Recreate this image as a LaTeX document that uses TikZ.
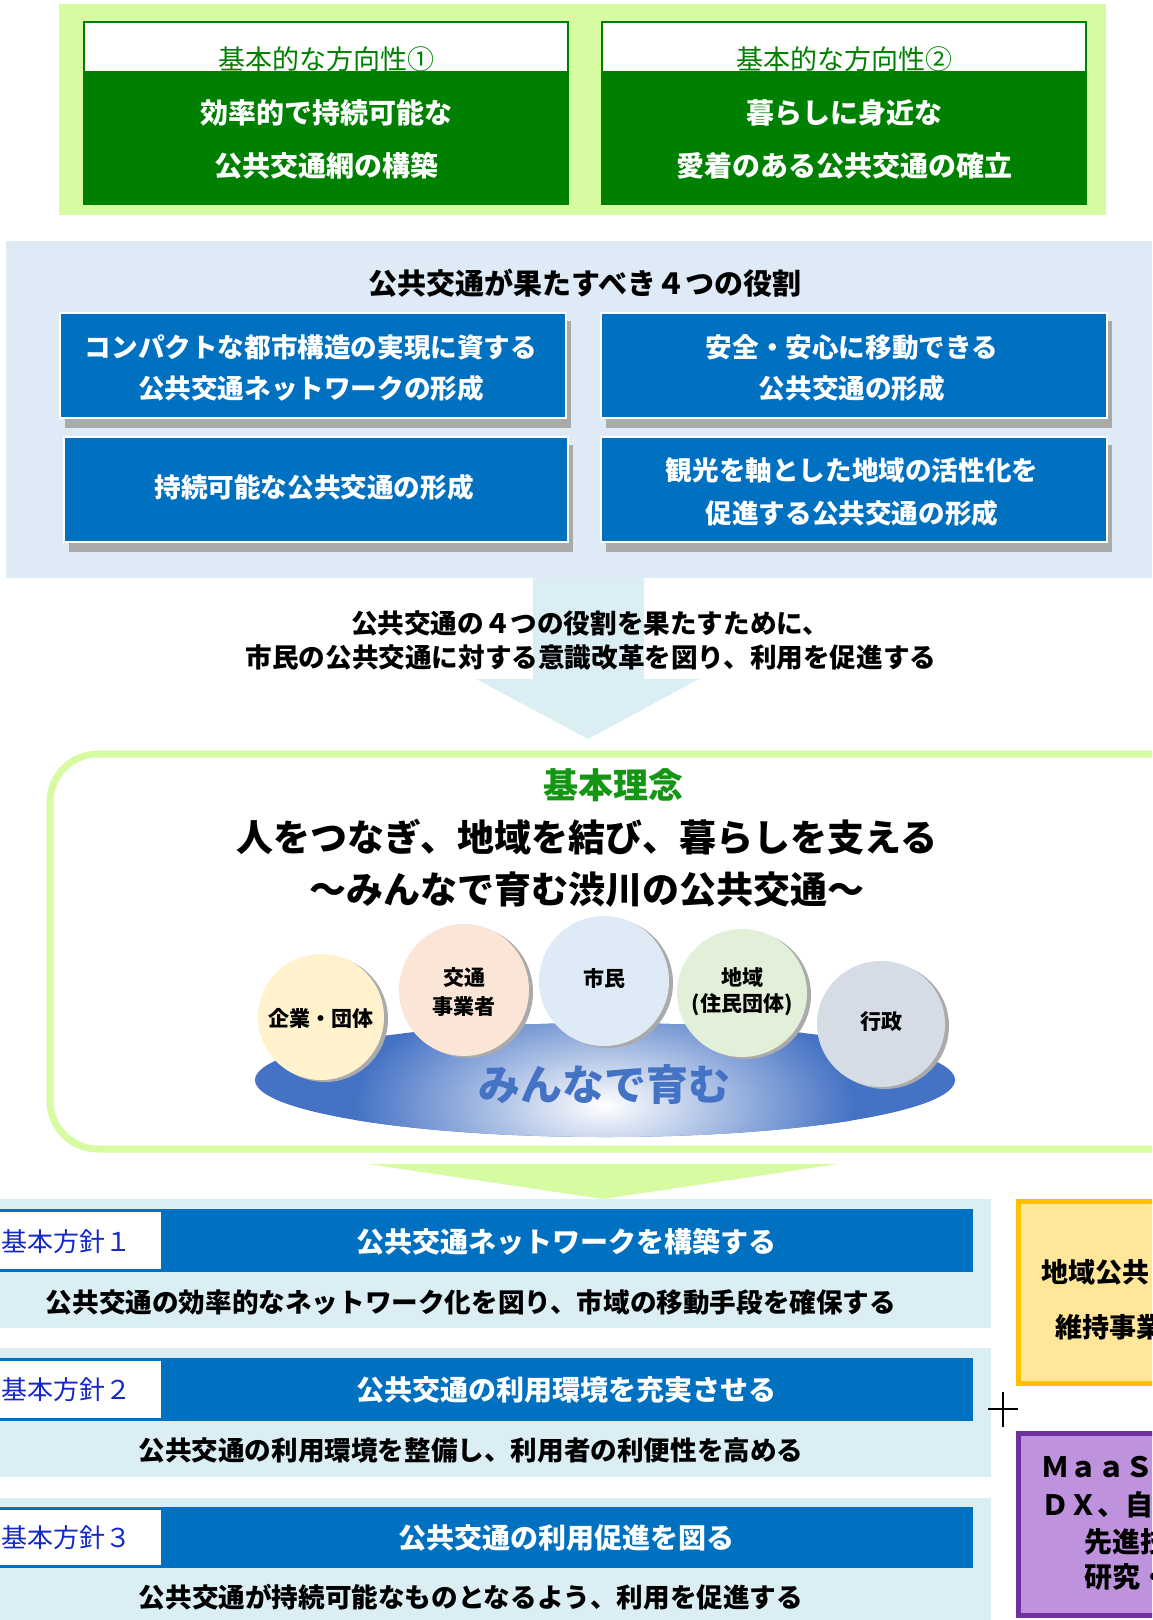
\documentclass[tikz,border=0pt]{standalone}
\usepackage{fontspec}
\setmainfont{Noto Sans CJK JP}
\definecolor{lgreen}{RGB}{214,251,161}
\definecolor{dgreen}{RGB}{0,128,0}
\definecolor{secblue}{RGB}{222,234,246}
\definecolor{boxblue}{RGB}{0,112,192}
\definecolor{arrowblue}{RGB}{218,238,243}
\definecolor{rowblue}{RGB}{218,238,243}
\definecolor{labelblue}{RGB}{20,40,200}
\definecolor{platblue}{RGB}{68,114,196}
\definecolor{ideagreen}{RGB}{20,150,20}
\definecolor{cyellow}{RGB}{255,242,204}
\definecolor{cpeach}{RGB}{251,229,214}
\definecolor{cblue}{RGB}{222,235,247}
\definecolor{cgreen}{RGB}{226,240,217}
\definecolor{cgray}{RGB}{214,220,229}
\definecolor{ybox}{RGB}{255,230,153}
\definecolor{yborder}{RGB}{255,192,0}
\definecolor{pbox}{RGB}{191,146,222}
\definecolor{pborder}{RGB}{112,48,160}
\definecolor{shadowgray}{RGB}{170,170,170}
\newcommand\fsz[1]{\fontsize{#1}{#1}\selectfont}
\tikzset{
  txt/.style={inner sep=0pt, anchor=center},
  hdr/.style={txt, text=dgreen, font=\fsz{27}},
  wbig/.style={txt, text=white, font=\fsz{28}\bfseries},
  wmid/.style={txt, text=white, font=\fsz{26.6}\bfseries},
  bmid/.style={txt, text=black, font=\fsz{26.6}\bfseries},
  btitle/.style={txt, text=black, font=\fsz{29}\bfseries},
  bhuge/.style={txt, text=black, font=\fsz{37}\bfseries},
  circtxt/.style={txt, text=black, font=\fsz{21}\bfseries},
  lbl/.style={inner sep=0pt, anchor=west, text=labelblue, font=\fsz{26}},
  rtxt/.style={inner sep=0pt, anchor=west, text=black, font=\fsz{27}\bfseries},
  roleshadow/.style={fill=shadowgray},
  rolebox/.style={fill=boxblue, draw=white, line width=2pt},
}
\begin{document}
\begin{tikzpicture}[x=1pt,y=-1pt]
\useasboundingbox (0,0) rectangle (1152,1620);
\clip (0,0) rectangle (1152,1620);

% ---------- section 1 ----------
\fill[lgreen] (59,4) rectangle (1106,215);
\fill[dgreen] (83,21) rectangle (569,205);
\fill[white] (85,23) rectangle (567,71);
\node[hdr] (h1) at (326,59) {基本的な方向性①};
\node[wbig] (d1a) at (326,113) {効率的で持続可能な};
\node[wbig] (d1b) at (326,166) {公共交通網の構築};
\fill[dgreen] (601,21) rectangle (1087,205);
\fill[white] (603,23) rectangle (1085,71);
\node[hdr] (h2) at (844,59) {基本的な方向性②};
\node[wbig] (d2a) at (844,113) {暮らしに身近な};
\node[wbig] (d2b) at (844,166) {愛着のある公共交通の確立};

% ---------- arrow ----------
\fill[arrowblue] (533,570) -- (644,570) -- (644,679) -- (699,679) -- (588,739) -- (476,679) -- (533,679) -- cycle;

% ---------- section 2 ----------
\fill[secblue] (6,241) rectangle (1152,578);
\node[btitle] (roles) at (585,283) {公共交通が果たすべき４つの役割};
\fill[roleshadow] (65,321) rectangle (571,428);
\fill[rolebox] (60,313) rectangle (566,418);
\fill[roleshadow] (606,321) rectangle (1112,428);
\fill[rolebox] (601,313) rectangle (1107,418);
\fill[roleshadow] (69,445) rectangle (573,552);
\fill[rolebox] (64,437) rectangle (568,542);
\fill[roleshadow] (606,445) rectangle (1112,552);
\fill[rolebox] (601,437) rectangle (1107,542);
\node[wmid] (r1a) at (311,347) {コンパクトな都市構造の実現に資する};
\node[wmid] (r1b) at (311,388) {公共交通ネットワークの形成};
\node[wmid] (r2a) at (852,347) {安全・安心に移動できる};
\node[wmid] (r2b) at (852,388) {公共交通の形成};
\node[wmid] (r3) at (314,487) {持続可能な公共交通の形成};
\node[wmid] (r4a) at (852,470) {観光を軸とした地域の活性化を};
\node[wmid] (r4b) at (852,513) {促進する公共交通の形成};

\node[bmid] (m1) at (590,623) {公共交通の４つの役割を果たすために、};
\node[bmid] (m2) at (591,657) {市民の公共交通に対する意識改革を図り、利用を促進する};

% ---------- section 4 ----------
\draw[lgreen, line width=7pt, rounded corners=48pt] (50,754) rectangle (1230,1149);
\node[txt, text=ideagreen, font=\fsz{35}\bfseries] (idea) at (613,785) {基本理念};
\node[bhuge] (slogan1) at (587,837) {人をつなぎ、地域を結び、暮らしを支える};
\node[bhuge] (slogan2) at (587,890) {～みんなで育む渋川の公共交通～};

% platform
\fill[platblue] (605,1080) ellipse (350 and 57);
\begin{scope}
  \clip (605,1080) ellipse (350 and 57);
  \shade[inner color=white, outer color=platblue] (604,1105) ellipse (250 and 120);
\end{scope}
\node[txt, text=platblue, font=\fsz{42}\bfseries] (grow) at (604,1085) {みんなで育む};

% circles
\fill[shadowgray] (325,1019) ellipse (63 and 63);
\fill[cyellow] (321,1017) ellipse (63 and 63);
\fill[shadowgray] (468,992) ellipse (65 and 66);
\fill[cpeach] (464,990) ellipse (65 and 66);
\fill[shadowgray] (608,983) ellipse (65 and 65);
\fill[cblue] (604,981) ellipse (65 and 65);
\fill[shadowgray] (746,995) ellipse (65 and 64);
\fill[cgreen] (742,993) ellipse (65 and 64);
\fill[shadowgray] (885,1026) ellipse (64 and 63);
\fill[cgray] (881,1024) ellipse (64 and 63);
\node[circtxt] (c1) at (321,1018) {企業・団体};
\node[circtxt] (c2a) at (464,978) {交通};
\node[circtxt] (c2b) at (464,1007) {事業者};
\node[circtxt] (c3) at (604,978) {市民};
\node[circtxt] (c4a) at (742,977) {地域};
\node[circtxt] (c4b) at (742,1005) {(住民団体)};
\node[circtxt] (c5) at (881,1022) {行政};

% ---------- section 5 ----------
\fill[lgreen] (368,1164) -- (838,1164) -- (603,1199) -- cycle;
\fill[rowblue] (0,1199) rectangle (991,1328);
\fill[rowblue] (0,1348) rectangle (991,1477);
\fill[rowblue] (0,1498) rectangle (991,1625);

\fill[boxblue] (-2,1209) rectangle (973,1272);
\fill[white] (-2,1212) rectangle (161,1269);
\node[lbl] (p1) at (1,1242) {基本方針１};
\node[wbig] (p1t) at (566,1242) {公共交通ネットワークを構築する};
\node[bmid] (p1s) at (471,1302) {公共交通の効率的なネットワーク化を図り、市域の移動手段を確保する};

\fill[boxblue] (-2,1358) rectangle (973,1421);
\fill[white] (-2,1361) rectangle (161,1418);
\node[lbl] (p2) at (1,1390) {基本方針２};
\node[wbig] (p2t) at (566,1390) {公共交通の利用環境を充実させる};
\node[bmid] (p2s) at (471,1450) {公共交通の利用環境を整備し、利用者の利便性を高める};

\fill[boxblue] (-2,1507) rectangle (973,1568);
\fill[white] (-2,1510) rectangle (161,1565);
\node[lbl] (p3) at (1,1538) {基本方針３};
\node[wbig] (p3t) at (566,1538) {公共交通の利用促進を図る};
\node[bmid] (p3s) at (471,1597) {公共交通が持続可能なものとなるよう、利用を促進する};

% plus sign
\coordinate (plusL) at (988,1409);
\coordinate (plusR) at (1018,1409);
\coordinate (plusT) at (1003,1392);
\coordinate (plusB) at (1003,1427);
\draw[line width=2.6pt] (plusL) -- (plusR);
\draw[line width=2.6pt] (plusT) -- (plusB);

% right boxes
\filldraw[fill=ybox, draw=yborder, line width=5pt] (1018,1201) rectangle (1220,1383);
\node[rtxt] (y1) at (1041,1272) {地域公共};
\node[rtxt] (y2) at (1055,1327) {維持事業};
\filldraw[fill=pbox, draw=pborder, line width=5pt] (1018,1433) rectangle (1220,1615);
\node[rtxt, font=\fsz{28}\bfseries] (q1) at (1041,1467) {ＭａａＳ};
\node[rtxt, font=\fsz{28}\bfseries] (q2) at (1041,1505) {ＤＸ、自};
\node[rtxt, font=\fsz{28}\bfseries] (q3) at (1084,1542) {先進技};
\node[rtxt, font=\fsz{28}\bfseries] (q4) at (1084,1577) {研究・};
\end{tikzpicture}
\end{document}
